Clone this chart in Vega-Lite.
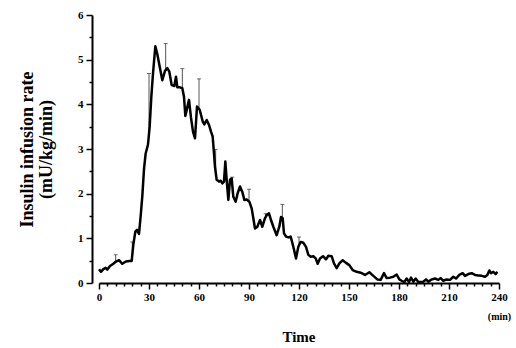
{
  "$schema": "https://vega.github.io/schema/vega-lite/v6.json",
  "width": 400,
  "height": 268,
  "autosize": "none",
  "padding": {"left": 99, "top": 15, "right": 17, "bottom": 65},
  "background": "white",
  "title": {"text": "Time", "orient": "bottom", "anchor": "middle", "font": "Liberation Serif", "fontWeight": "bold", "fontSize": 15, "offset": 9, "color": "black"},
  "config": {
    "view": {"stroke": null},
    "axis": {
      "domainColor": "black", "domainWidth": 2, "tickColor": "black", "tickWidth": 1.5,
      "labelFont": "Liberation Serif", "labelFontWeight": "bold", "labelFontSize": 11, "labelColor": "black",
      "titleFont": "Liberation Serif", "titleFontWeight": "bold", "titleColor": "black", "grid": false
    }
  },
  "datasets": {
    "line": [
      {"t":0.0,"v":0.31},{"t":1.2,"v":0.25},{"t":2.6,"v":0.31},{"t":4.0,"v":0.34},{"t":5.0,"v":0.30},{"t":6.6,"v":0.38},{"t":8.6,"v":0.43},{"t":10.2,"v":0.48},{"t":12.0,"v":0.51},{"t":14.0,"v":0.43},{"t":16.1,"v":0.48},{"t":18.2,"v":0.49},{"t":19.6,"v":0.49},{"t":20.6,"v":0.86},{"t":21.8,"v":1.15},{"t":22.8,"v":1.19},{"t":24.0,"v":1.10},{"t":25.0,"v":1.50},{"t":26.0,"v":1.95},{"t":27.0,"v":2.55},{"t":28.0,"v":2.90},{"t":29.4,"v":3.10},{"t":30.4,"v":3.50},{"t":31.4,"v":4.17},{"t":32.4,"v":4.69},{"t":33.8,"v":5.30},{"t":35.0,"v":5.12},{"t":36.6,"v":4.81},{"t":38.0,"v":4.54},{"t":39.6,"v":4.75},{"t":41.0,"v":4.81},{"t":42.2,"v":4.73},{"t":43.6,"v":4.43},{"t":45.2,"v":4.41},{"t":46.2,"v":4.62},{"t":47.0,"v":4.38},{"t":48.6,"v":4.38},{"t":50.0,"v":4.36},{"t":51.0,"v":4.17},{"t":51.8,"v":3.74},{"t":52.6,"v":3.87},{"t":54.0,"v":4.10},{"t":55.2,"v":3.70},{"t":56.4,"v":3.39},{"t":57.6,"v":3.24},{"t":58.8,"v":3.95},{"t":60.4,"v":3.88},{"t":62.2,"v":3.62},{"t":63.2,"v":3.55},{"t":64.6,"v":3.65},{"t":66.0,"v":3.54},{"t":67.2,"v":3.39},{"t":68.2,"v":3.28},{"t":69.0,"v":2.90},{"t":69.6,"v":2.60},{"t":70.6,"v":2.31},{"t":72.0,"v":2.27},{"t":73.0,"v":2.29},{"t":74.0,"v":2.23},{"t":75.0,"v":2.27},{"t":75.8,"v":2.72},{"t":76.6,"v":2.31},{"t":77.6,"v":1.86},{"t":78.6,"v":2.31},{"t":79.6,"v":2.34},{"t":80.6,"v":1.93},{"t":82.0,"v":1.82},{"t":83.2,"v":2.01},{"t":84.6,"v":2.16},{"t":86.0,"v":2.04},{"t":87.2,"v":1.86},{"t":88.6,"v":1.87},{"t":90.2,"v":1.82},{"t":91.6,"v":1.67},{"t":92.6,"v":1.45},{"t":93.6,"v":1.22},{"t":95.0,"v":1.26},{"t":96.6,"v":1.41},{"t":98.0,"v":1.26},{"t":99.6,"v":1.45},{"t":100.6,"v":1.52},{"t":102.0,"v":1.56},{"t":103.2,"v":1.41},{"t":104.6,"v":1.26},{"t":106.6,"v":1.07},{"t":108.2,"v":1.26},{"t":109.2,"v":1.48},{"t":110.2,"v":1.45},{"t":111.0,"v":1.11},{"t":112.2,"v":1.04},{"t":113.6,"v":1.02},{"t":115.0,"v":1.04},{"t":116.6,"v":0.81},{"t":118.2,"v":0.55},{"t":119.6,"v":0.81},{"t":121.0,"v":0.92},{"t":122.6,"v":0.90},{"t":124.2,"v":0.81},{"t":125.6,"v":0.63},{"t":127.0,"v":0.59},{"t":128.6,"v":0.60},{"t":130.0,"v":0.55},{"t":131.2,"v":0.43},{"t":132.6,"v":0.55},{"t":134.4,"v":0.60},{"t":136.2,"v":0.53},{"t":137.6,"v":0.61},{"t":139.6,"v":0.60},{"t":141.0,"v":0.44},{"t":142.6,"v":0.33},{"t":144.2,"v":0.44},{"t":146.2,"v":0.51},{"t":148.2,"v":0.45},{"t":150.2,"v":0.40},{"t":152.2,"v":0.29},{"t":154.6,"v":0.25},{"t":157.0,"v":0.23},{"t":159.6,"v":0.18},{"t":162.2,"v":0.24},{"t":164.6,"v":0.16},{"t":167.0,"v":0.08},{"t":169.0,"v":0.07},{"t":171.0,"v":0.22},{"t":172.6,"v":0.11},{"t":174.6,"v":0.12},{"t":176.6,"v":0.14},{"t":178.6,"v":0.19},{"t":180.2,"v":0.08},{"t":181.6,"v":0.05},{"t":183.2,"v":0.02},{"t":184.6,"v":0.10},{"t":186.0,"v":0.02},{"t":187.2,"v":0.12},{"t":188.6,"v":0.03},{"t":190.0,"v":0.10},{"t":191.6,"v":0.02},{"t":194.6,"v":0.03},{"t":196.2,"v":0.08},{"t":197.6,"v":0.03},{"t":199.6,"v":0.08},{"t":201.6,"v":0.10},{"t":203.6,"v":0.07},{"t":205.0,"v":0.11},{"t":206.6,"v":0.05},{"t":208.6,"v":0.08},{"t":210.6,"v":0.07},{"t":212.6,"v":0.14},{"t":214.2,"v":0.10},{"t":216.2,"v":0.18},{"t":218.2,"v":0.22},{"t":219.6,"v":0.16},{"t":221.6,"v":0.20},{"t":223.6,"v":0.22},{"t":225.6,"v":0.18},{"t":227.6,"v":0.17},{"t":229.6,"v":0.16},{"t":231.6,"v":0.14},{"t":233.0,"v":0.18},{"t":234.2,"v":0.28},{"t":235.2,"v":0.22},{"t":236.6,"v":0.25},{"t":238.0,"v":0.20},{"t":239.0,"v":0.25}
    ],
    "err": [
      {"t":10,"v":0.47,"u":0.63},{"t":20,"v":0.6,"u":0.92},{"t":30,"v":3.3,"u":4.69},{"t":40,"v":4.75,"u":5.36},{"t":50,"v":4.36,"u":4.8},{"t":60,"v":3.9,"u":4.57},{"t":70,"v":2.4,"u":2.99},{"t":80,"v":2.0,"u":2.37},{"t":90,"v":1.85,"u":2.1},{"t":100,"v":1.5,"u":1.55},{"t":110,"v":1.45,"u":1.76},{"t":120,"v":0.85,"u":1.03}
    ],
    "caps": [
      {"t":10,"v":0.63},{"t":20,"v":0.92},{"t":30,"v":4.69},{"t":40,"v":5.36},{"t":50,"v":4.8},{"t":60,"v":4.57},{"t":70,"v":2.99},{"t":80,"v":2.37},{"t":90,"v":2.1},{"t":100,"v":1.55},{"t":110,"v":1.76},{"t":120,"v":1.03}
    ]
  },
  "encoding": {
    "x": {
      "field": "t", "type": "quantitative",
      "scale": {"domain": [0, 240], "nice": false},
      "axis": {
        "title": "(min)", "titleFontSize": 10, "titleX": 400, "titleY": 28, "titleAlign": "center", "titleAnchor": null,
        "values": [0,5,10,15,20,25,30,35,40,45,50,55,60,65,70,75,80,85,90,95,100,105,110,115,120,125,130,135,140,145,150,155,160,165,170,175,180,185,190,195,200,205,210,215,220,225,230,235,240],
        "labelExpr": "datum.value % 30 === 0 ? datum.label : ''",
        "tickSize": {"condition": {"test": "datum.value % 30 === 0", "value": 6}, "value": 3},
        "labelPadding": 2, "labelFlush": false, "labelOverlap": false, "labelBound": false
      }
    },
    "y": {
      "field": "v", "type": "quantitative",
      "scale": {"domain": [0, 6], "nice": false},
      "axis": {
        "title": ["Insulin infusion rate", "(mU/kg/min)"], "titleFontSize": 18, "titlePadding": 22, "titleLineHeight": 19,
        "offset": 7,
        "values": [0,0.5,1,1.5,2,2.5,3,3.5,4,4.5,5,5.5,6],
        "labelExpr": "datum.value % 1 === 0 ? format(datum.value, 'd') : ''",
        "tickSize": {"condition": {"test": "datum.value % 1 === 0", "value": 6}, "value": 3},
        "labelPadding": 3, "labelFlush": false, "labelOverlap": false
      }
    }
  },
  "layer": [
    {
      "data": {"name": "err"},
      "mark": {"type": "rule", "color": "#555555", "strokeWidth": 1},
      "encoding": {"y2": {"field": "u"}}
    },
    {
      "data": {"name": "caps"},
      "mark": {"type": "tick", "orient": "horizontal", "color": "#333333", "size": 4, "thickness": 1}
    },
    {
      "data": {"name": "line"},
      "mark": {"type": "line", "color": "black", "strokeWidth": 2.5, "strokeJoin": "round"}
    }
  ]
}
